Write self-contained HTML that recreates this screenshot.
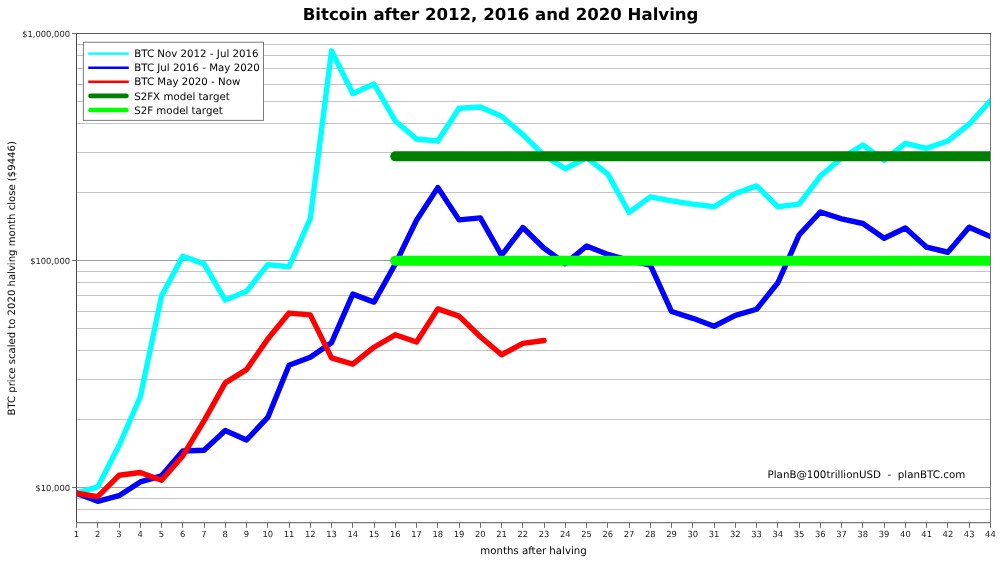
<!DOCTYPE html>
<html><head><meta charset="utf-8"><title>Bitcoin after 2012, 2016 and 2020 Halving</title>
<style>
html,body{margin:0;padding:0;background:#fff;}
body{width:1000px;height:562px;overflow:hidden;}
svg{display:block;will-change:transform;text-rendering:geometricPrecision;font-family:"DejaVu Sans","Liberation Sans",sans-serif;}
</style></head><body>
<svg width="1000" height="562" viewBox="0 0 1000 562">
<rect width="1000" height="562" fill="#ffffff"/>

<g stroke-width="1" fill="none" shape-rendering="crispEdges">
<line x1="77" x2="990" y1="509.5" y2="509.5" stroke="#c4c4c4"/>
<line x1="77" x2="990" y1="498.5" y2="498.5" stroke="#c4c4c4"/>
<line x1="77" x2="990" y1="487.5" y2="487.5" stroke="#9c9c9c"/>
<line x1="77" x2="990" y1="419.5" y2="419.5" stroke="#c4c4c4"/>
<line x1="77" x2="990" y1="379.5" y2="379.5" stroke="#c4c4c4"/>
<line x1="77" x2="990" y1="350.5" y2="350.5" stroke="#c4c4c4"/>
<line x1="77" x2="990" y1="328.5" y2="328.5" stroke="#c4c4c4"/>
<line x1="77" x2="990" y1="311.5" y2="311.5" stroke="#c4c4c4"/>
<line x1="77" x2="990" y1="295.5" y2="295.5" stroke="#c4c4c4"/>
<line x1="77" x2="990" y1="282.5" y2="282.5" stroke="#c4c4c4"/>
<line x1="77" x2="990" y1="271.5" y2="271.5" stroke="#c4c4c4"/>
<line x1="77" x2="990" y1="260.5" y2="260.5" stroke="#9c9c9c"/>
<line x1="77" x2="990" y1="192.5" y2="192.5" stroke="#c4c4c4"/>
<line x1="77" x2="990" y1="152.5" y2="152.5" stroke="#c4c4c4"/>
<line x1="77" x2="990" y1="123.5" y2="123.5" stroke="#c4c4c4"/>
<line x1="77" x2="990" y1="101.5" y2="101.5" stroke="#c4c4c4"/>
<line x1="77" x2="990" y1="84.5" y2="84.5" stroke="#c4c4c4"/>
<line x1="77" x2="990" y1="68.5" y2="68.5" stroke="#c4c4c4"/>
<line x1="77" x2="990" y1="55.5" y2="55.5" stroke="#c4c4c4"/>
<line x1="77" x2="990" y1="44.5" y2="44.5" stroke="#c4c4c4"/>
</g>
<g fill="none" stroke-linejoin="round" stroke-linecap="round" clip-path="url(#clip)">
<clipPath id="clip"><rect x="76.5" y="33.5" width="913.9" height="489.0"/></clipPath>
<path d="M76.50,493.27 L97.75,486.87 L119.01,445.48 L140.26,396.98 L161.51,295.94 L182.77,256.19 L204.02,263.87 L225.27,300.13 L246.53,291.31 L267.78,264.68 L289.03,266.75 L310.29,218.53 L331.54,50.84 L352.80,93.49 L374.05,84.01 L395.30,120.94 L416.56,139.02 L437.81,140.98 L459.06,108.31 L480.32,107.04 L501.57,116.17 L522.82,134.59 L544.08,155.41 L565.33,168.75 L586.58,157.73 L607.84,174.15 L629.09,212.44 L650.34,196.92 L671.60,200.88 L692.85,204.17 L714.10,206.71 L735.36,193.49 L756.61,185.91 L777.87,206.71 L799.12,204.17 L820.37,176.01 L841.63,157.99 L862.88,145.02 L884.13,160.37 L905.39,143.43 L926.64,148.28 L947.89,140.98 L969.15,124.22 L990.40,100.86" stroke="#00ffff" stroke-width="5.4"/>
<path d="M76.50,493.27 L97.75,501.32 L119.01,495.66 L140.26,481.93 L161.51,475.79 L182.77,450.95 L204.02,450.21 L225.27,430.53 L246.53,440.01 L267.78,417.40 L289.03,365.26 L310.29,357.23 L331.54,342.66 L352.80,294.14 L374.05,302.11 L395.30,263.96 L416.56,220.29 L437.81,187.60 L459.06,219.89 L480.32,217.89 L501.57,255.31 L522.82,227.56 L544.08,248.21 L565.33,263.71 L586.58,246.02 L607.84,254.41 L629.09,260.36 L650.34,265.05 L671.60,311.51 L692.85,318.34 L714.10,326.26 L735.36,315.38 L756.61,309.22 L777.87,282.77 L799.12,234.94 L820.37,212.03 L841.63,218.94 L862.88,223.49 L884.13,238.22 L905.39,228.00 L926.64,247.23 L947.89,252.25 L969.15,227.20 L990.40,236.62" stroke="#0000ff" stroke-width="5.4"/>
<path d="M76.50,493.27 L97.75,496.55 L119.01,475.30 L140.26,472.55 L161.51,480.26 L182.77,455.92 L204.02,420.82 L225.27,382.86 L246.53,369.63 L267.78,339.01 L289.03,313.07 L310.29,314.83 L331.54,357.88 L352.80,364.08 L374.05,347.23 L395.30,334.81 L416.56,341.98 L437.81,308.88 L459.06,316.16 L480.32,336.78 L501.57,354.75 L522.82,343.44 L544.08,340.47" stroke="#ff0000" stroke-width="5.4"/>
<path d="M395.30,156.37 L990.40,156.37" stroke="#008000" stroke-width="10" stroke-linecap="round"/>
<path d="M395.30,260.65 L990.40,260.65" stroke="#00ff00" stroke-width="10" stroke-linecap="round"/>
</g>
<g stroke-width="1" shape-rendering="crispEdges" fill="none">
<line x1="76.5" x2="76.5" y1="33" y2="523" stroke="#484848"/>
<line x1="990.5" x2="990.5" y1="33" y2="523" stroke="#747474"/>
<line x1="76" x2="991" y1="33.5" y2="33.5" stroke="#585858"/>
<line x1="76" x2="991" y1="522.5" y2="522.5" stroke="#7a7a7a"/>
<line x1="76" x2="991" y1="523.5" y2="523.5" stroke="#dcdcdc"/>
</g>
<g stroke="#707070" stroke-width="1">
<line x1="76.5" x2="76.5" y1="523" y2="527.9"/>
<line x1="97.5" x2="97.5" y1="523" y2="527.9"/>
<line x1="119.5" x2="119.5" y1="523" y2="527.9"/>
<line x1="140.5" x2="140.5" y1="523" y2="527.9"/>
<line x1="161.5" x2="161.5" y1="523" y2="527.9"/>
<line x1="182.5" x2="182.5" y1="523" y2="527.9"/>
<line x1="204.5" x2="204.5" y1="523" y2="527.9"/>
<line x1="225.5" x2="225.5" y1="523" y2="527.9"/>
<line x1="246.5" x2="246.5" y1="523" y2="527.9"/>
<line x1="267.5" x2="267.5" y1="523" y2="527.9"/>
<line x1="289.5" x2="289.5" y1="523" y2="527.9"/>
<line x1="310.5" x2="310.5" y1="523" y2="527.9"/>
<line x1="331.5" x2="331.5" y1="523" y2="527.9"/>
<line x1="352.5" x2="352.5" y1="523" y2="527.9"/>
<line x1="374.5" x2="374.5" y1="523" y2="527.9"/>
<line x1="395.5" x2="395.5" y1="523" y2="527.9"/>
<line x1="416.5" x2="416.5" y1="523" y2="527.9"/>
<line x1="437.5" x2="437.5" y1="523" y2="527.9"/>
<line x1="459.5" x2="459.5" y1="523" y2="527.9"/>
<line x1="480.5" x2="480.5" y1="523" y2="527.9"/>
<line x1="501.5" x2="501.5" y1="523" y2="527.9"/>
<line x1="522.5" x2="522.5" y1="523" y2="527.9"/>
<line x1="544.5" x2="544.5" y1="523" y2="527.9"/>
<line x1="565.5" x2="565.5" y1="523" y2="527.9"/>
<line x1="586.5" x2="586.5" y1="523" y2="527.9"/>
<line x1="607.5" x2="607.5" y1="523" y2="527.9"/>
<line x1="629.5" x2="629.5" y1="523" y2="527.9"/>
<line x1="650.5" x2="650.5" y1="523" y2="527.9"/>
<line x1="671.5" x2="671.5" y1="523" y2="527.9"/>
<line x1="692.5" x2="692.5" y1="523" y2="527.9"/>
<line x1="714.5" x2="714.5" y1="523" y2="527.9"/>
<line x1="735.5" x2="735.5" y1="523" y2="527.9"/>
<line x1="756.5" x2="756.5" y1="523" y2="527.9"/>
<line x1="777.5" x2="777.5" y1="523" y2="527.9"/>
<line x1="799.5" x2="799.5" y1="523" y2="527.9"/>
<line x1="820.5" x2="820.5" y1="523" y2="527.9"/>
<line x1="841.5" x2="841.5" y1="523" y2="527.9"/>
<line x1="862.5" x2="862.5" y1="523" y2="527.9"/>
<line x1="884.5" x2="884.5" y1="523" y2="527.9"/>
<line x1="905.5" x2="905.5" y1="523" y2="527.9"/>
<line x1="926.5" x2="926.5" y1="523" y2="527.9"/>
<line x1="947.5" x2="947.5" y1="523" y2="527.9"/>
<line x1="969.5" x2="969.5" y1="523" y2="527.9"/>
<line x1="990.5" x2="990.5" y1="523" y2="527.9"/>
<line x1="72.0" x2="76" y1="487.5" y2="487.5"/>
<line x1="72.0" x2="76" y1="260.5" y2="260.5"/>
<line x1="72.0" x2="76" y1="33.5" y2="33.5"/>
</g>
<g id="txt">
<g font-size="8.38" fill="#1a1a1a" text-anchor="middle">
<text x="76.50" y="536.8">1</text>
<text x="97.75" y="536.8">2</text>
<text x="119.01" y="536.8">3</text>
<text x="140.26" y="536.8">4</text>
<text x="161.51" y="536.8">5</text>
<text x="182.77" y="536.8">6</text>
<text x="204.02" y="536.8">7</text>
<text x="225.27" y="536.8">8</text>
<text x="246.53" y="536.8">9</text>
<text x="267.78" y="536.8">10</text>
<text x="289.03" y="536.8">11</text>
<text x="310.29" y="536.8">12</text>
<text x="331.54" y="536.8">13</text>
<text x="352.80" y="536.8">14</text>
<text x="374.05" y="536.8">15</text>
<text x="395.30" y="536.8">16</text>
<text x="416.56" y="536.8">17</text>
<text x="437.81" y="536.8">18</text>
<text x="459.06" y="536.8">19</text>
<text x="480.32" y="536.8">20</text>
<text x="501.57" y="536.8">21</text>
<text x="522.82" y="536.8">22</text>
<text x="544.08" y="536.8">23</text>
<text x="565.33" y="536.8">24</text>
<text x="586.58" y="536.8">25</text>
<text x="607.84" y="536.8">26</text>
<text x="629.09" y="536.8">27</text>
<text x="650.34" y="536.8">28</text>
<text x="671.60" y="536.8">29</text>
<text x="692.85" y="536.8">30</text>
<text x="714.10" y="536.8">31</text>
<text x="735.36" y="536.8">32</text>
<text x="756.61" y="536.8">33</text>
<text x="777.87" y="536.8">34</text>
<text x="799.12" y="536.8">35</text>
<text x="820.37" y="536.8">36</text>
<text x="841.63" y="536.8">37</text>
<text x="862.88" y="536.8">38</text>
<text x="884.13" y="536.8">39</text>
<text x="905.39" y="536.8">40</text>
<text x="926.64" y="536.8">41</text>
<text x="947.89" y="536.8">42</text>
<text x="969.15" y="536.8">43</text>
<text x="990.40" y="536.8">44</text>
</g>
<g font-size="8.38" fill="#1a1a1a" text-anchor="end">
<text x="70.1" y="36.80">$1,000,000</text>
<text x="70.1" y="263.80">$100,000</text>
<text x="70.1" y="490.80">$10,000</text>
</g>
<text x="500.6" y="19.75" font-size="16.58" font-weight="bold" text-anchor="middle" fill="#000">Bitcoin after 2012, 2016 and 2020 Halving</text>
<text x="533.5" y="553.7" font-size="10.23" text-anchor="middle" fill="#000">months after halving</text>
<text transform="translate(14.7,278.3) rotate(-90)" font-size="10.1" text-anchor="middle" fill="#000">BTC price scaled to 2020 halving month close ($9446)</text>
<text x="767.5" y="478" font-size="10.3" fill="#000" xml:space="preserve" style="white-space:pre">PlanB@100trillionUSD  -  planBTC.com</text>
</g>
<g>
<rect x="83.3" y="42.2" width="180.3" height="78.1" fill="#fff" stroke="#5a5a5a" stroke-width="0.8"/>
<line x1="88.2" x2="128.8" y1="53.60" y2="53.60" stroke="#00ffff" stroke-width="2.4" stroke-linecap="butt"/>
<text x="134.2" y="57.20" font-size="10.25" fill="#000">BTC Nov 2012 - Jul 2016</text>
<line x1="88.2" x2="128.8" y1="67.70" y2="67.70" stroke="#0000ff" stroke-width="2.4" stroke-linecap="butt"/>
<text x="134.2" y="71.30" font-size="10.25" fill="#000">BTC Jul 2016 - May 2020</text>
<line x1="88.2" x2="128.8" y1="81.80" y2="81.80" stroke="#ff0000" stroke-width="2.4" stroke-linecap="butt"/>
<text x="134.2" y="85.40" font-size="10.25" fill="#000">BTC May 2020 - Now</text>
<line x1="90.5" x2="126.50000000000001" y1="95.90" y2="95.90" stroke="#008000" stroke-width="4.6" stroke-linecap="round"/>
<text x="134.2" y="99.50" font-size="10.25" fill="#000">S2FX model target</text>
<line x1="90.5" x2="126.50000000000001" y1="110.00" y2="110.00" stroke="#00ff00" stroke-width="4.6" stroke-linecap="round"/>
<text x="134.2" y="113.60" font-size="10.25" fill="#000">S2F model target</text>
</g>
</svg></body></html>
